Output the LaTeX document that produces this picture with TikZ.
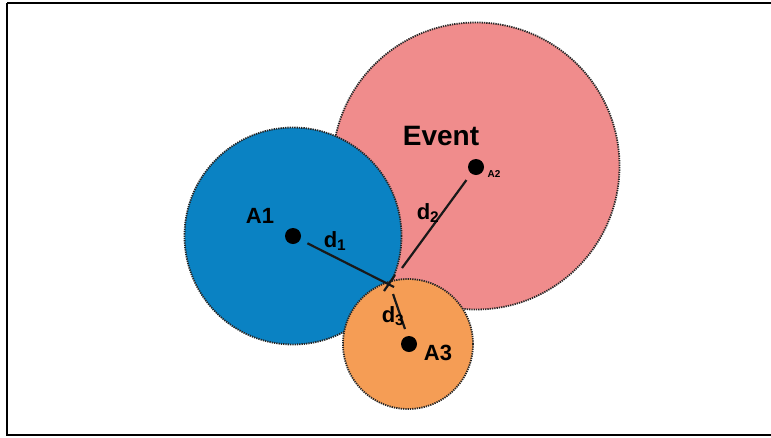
\documentclass[tikz,border=0pt]{standalone}
\usepackage{fontspec}
\setmainfont{Liberation Sans}
\definecolor{eventred}{RGB}{240,140,140}
\definecolor{aoneblue}{RGB}{10,130,195}
\definecolor{athreeorange}{RGB}{245,157,85}
\tikzset{
  zone/.style={circle,draw=black!85,line width=1.8pt,dash pattern=on 1.3pt off 1pt,inner sep=0pt},
  spot/.style={circle,fill=black,inner sep=0pt,minimum size=16pt},
  lab/.style={font=\bfseries\fontsize{22}{22}\selectfont,inner sep=0pt},
  dist/.style={black!90,line width=2.2pt}
}
\begin{document}
\begin{tikzpicture}[x=1pt,y=-1pt]
    \useasboundingbox (0,0) rectangle (771,437);
    \clip (0,0) rectangle (771,437);
    \draw [line width=2pt] (7,3)--(780,3);
    \draw [line width=2pt] (7,3)--(7,435)--(780,435);

    % the three zones
    \node [zone,fill=eventred,minimum size=287pt] (event) at (476,166) {};
    \node [zone,fill=aoneblue,minimum size=217pt] (aone) at (293,236) {};
    \node [zone,fill=athreeorange,minimum size=130pt] (athree) at (408,344) {};

    \node [spot] (dot1) at (293,236) {};
    \node [spot] (dot2) at (476,167) {};
    \node [spot] (dot3) at (409,344) {};

    \node [lab] (lab1) at (260,216) {A1};
    \node [lab] (lab3) at (438,353) {A3};
    \node [lab,font=\bfseries\fontsize{28}{28}\selectfont] (labev) at (441,136) {Event};
    \node [lab,font=\bfseries\fontsize{10}{10}\selectfont] (lab2) at (494,174) {A2};

    % distances to the crossing point
    \coordinate (cross) at (389,282);
    \coordinate (end1) at (394,287);
    \coordinate (end2) at (402,268);
    \coordinate (end3) at (393,294);
    \coordinate (tip3) at (405,329);
    \draw [dist,shorten <=8pt] (dot1)--(end1);
    \draw [dist] (384,291)--(395,275);
    \draw [dist,shorten <=8pt] (dot2)--(end2);
    \draw [dist] (end3)--(tip3);

    \node [lab] (d1) at (335,241) {d\textsubscript{1}};
    \node [lab] (d2) at (428,213) {d\textsubscript{2}};
    \node [lab] (d3) at (393,316) {d\textsubscript{3}};
\end{tikzpicture}
\end{document}
